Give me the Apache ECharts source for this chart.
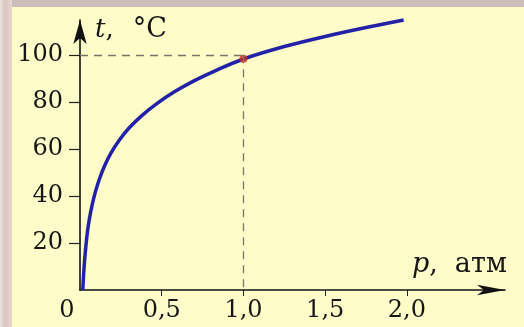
<!DOCTYPE html>
<html>
<head>
<meta charset="utf-8">
<script src="https://cdn.jsdelivr.net/npm/echarts@6/dist/echarts.min.js"></script>
<style>
  html, body { margin: 0; padding: 0; background: #FEFCC8; }
  #chart { width: 524px; height: 327px; }
</style>
</head>
<body>
<div id="chart"></div>
<script>
// Boiling point of water vs pressure
const pressure = [0.017, 0.022, 0.028, 0.035, 0.045, 0.058, 0.075, 0.095, 0.12, 0.15, 0.19, 0.24, 0.30, 0.38, 0.47, 0.58, 0.70, 0.84, 1.0, 1.25, 1.5, 1.75, 1.98];
const temperature = [0, 6.5, 12.5, 18, 24.5, 30.5, 36.5, 42, 47.5, 52.8, 58.4, 63.8, 69, 74.4, 79.4, 84.5, 89.2, 93.8, 98.4, 103.7, 108.0, 111.8, 115.0];
const markedPoint = [1.0, 98.5];
const refTemp = 100;
const refPressure = 1.0;
const xTickValues = [0, 0.5, 1.0, 1.5, 2.0];
const xTickLabels = ['0', '0,5', '1,0', '1,5', '2,0'];
const yTickValues = [20, 40, 60, 80, 100];
const yTickLabels = ['20', '40', '60', '80', '100'];

const curve = pressure.map((p, i) => [p, temperature[i]]);
const serif = 'DejaVu Serif';
const ink = '#161616';

const chart = echarts.init(document.getElementById('chart'), null, { renderer: 'canvas' });
chart.setOption({
  backgroundColor: '#FEFCC8',
  animation: false,
  graphic: [
    { type: 'rect', shape: { x: 0, y: 0, width: 524, height: 7 }, style: { fill: '#CDBDBD' }, z: -1 },
    { type: 'rect', shape: { x: 0, y: 0, width: 12, height: 327 },
      style: { fill: new echarts.graphic.LinearGradient(0, 0, 1, 0, [
        { offset: 0, color: '#EFE4DC' }, { offset: 0.4, color: '#D8C4C4' }, { offset: 1, color: '#E6D8CF' }]) }, z: -1 }
  ],
  grid: { left: 80, right: 19, top: 20, bottom: 37, containLabel: false },
  xAxis: {
    type: 'value', min: 0, max: 2.6, interval: 0.5,
    name: '{i|p},{u|атм}',
    nameLocation: 'end', nameGap: -93,
    nameTextStyle: {
      fontFamily: serif, fontSize: 27, color: ink, align: 'left', verticalAlign: 'bottom',
      padding: [0, 0, 12, 0],
      rich: {
        i: { fontFamily: serif, fontSize: 27, fontStyle: 'italic', color: ink },
        u: { fontFamily: serif, fontSize: 27, color: ink, padding: [0, 0, 0, 17] }
      }
    },
    axisLine: { show: true, onZero: false, lineStyle: { color: '#111', width: 1.6 },
      symbol: ['none', 'arrow'], symbolSize: [8, 28] },
    axisTick: { show: true, length: 6, lineStyle: { color: '#222', width: 1 }, customValues: [0.5, 1.0, 1.5, 2.0] },
    axisLabel: {
      customValues: xTickValues,
      formatter: function (v) {
        const i = xTickValues.findIndex(t => Math.abs(t - v) < 1e-6);
        if (i < 0) return '';
        return v === 0 ? '{z|' + xTickLabels[i] + '}' : xTickLabels[i];
      },
      fontFamily: serif, fontSize: 24, color: ink, margin: 9,
      rich: { z: { fontFamily: serif, fontSize: 24, color: ink, padding: [0, 26, 0, 0] } }
    },
    splitLine: { show: false }
  },
  yAxis: {
    type: 'value', min: 0, max: 115, interval: 20,
    name: '{i|t},{u|°C}',
    nameLocation: 'end', nameGap: -10,
    nameTextStyle: {
      fontFamily: serif, fontSize: 26, color: ink, align: 'left', verticalAlign: 'middle',
      padding: [0, 0, 0, 15],
      rich: {
        i: { fontFamily: serif, fontSize: 26, fontStyle: 'italic', color: ink },
        u: { fontFamily: serif, fontSize: 27, color: ink, padding: [0, 0, 0, 19] }
      }
    },
    axisLine: { show: true, onZero: false, lineStyle: { color: '#111', width: 1.6 },
      symbol: ['none', 'arrow'], symbolSize: [10, 24] },
    axisTick: { show: true, length: 11, lineStyle: { color: '#222', width: 1.2 }, customValues: yTickValues },
    axisLabel: {
      customValues: yTickValues,
      formatter: function (v) {
        const i = yTickValues.indexOf(v);
        return i < 0 ? '' : yTickLabels[i];
      },
      fontFamily: serif, fontSize: 24, color: ink, margin: 17
    },
    splitLine: { show: false }
  },
  series: [
    {
      type: 'line', data: curve, smooth: 0.3, showSymbol: false, clip: false,
      lineStyle: { color: '#2222A8', width: 3.5 },
      markLine: {
        silent: true, symbol: ['none', 'none'], label: { show: false },
        lineStyle: { color: '#77776A', width: 1.3, type: [8, 6] },
        data: [
          [{ coord: [0, refTemp] }, { coord: [refPressure, refTemp] }],
          [{ coord: [refPressure, refTemp] }, { coord: [refPressure, 0] }]
        ]
      },
      z: 3
    },
    {
      type: 'scatter', data: [markedPoint], symbolSize: 8,
      itemStyle: { color: '#C8321E' }, z: 4
    }
  ]
});
</script>
</body>
</html>
